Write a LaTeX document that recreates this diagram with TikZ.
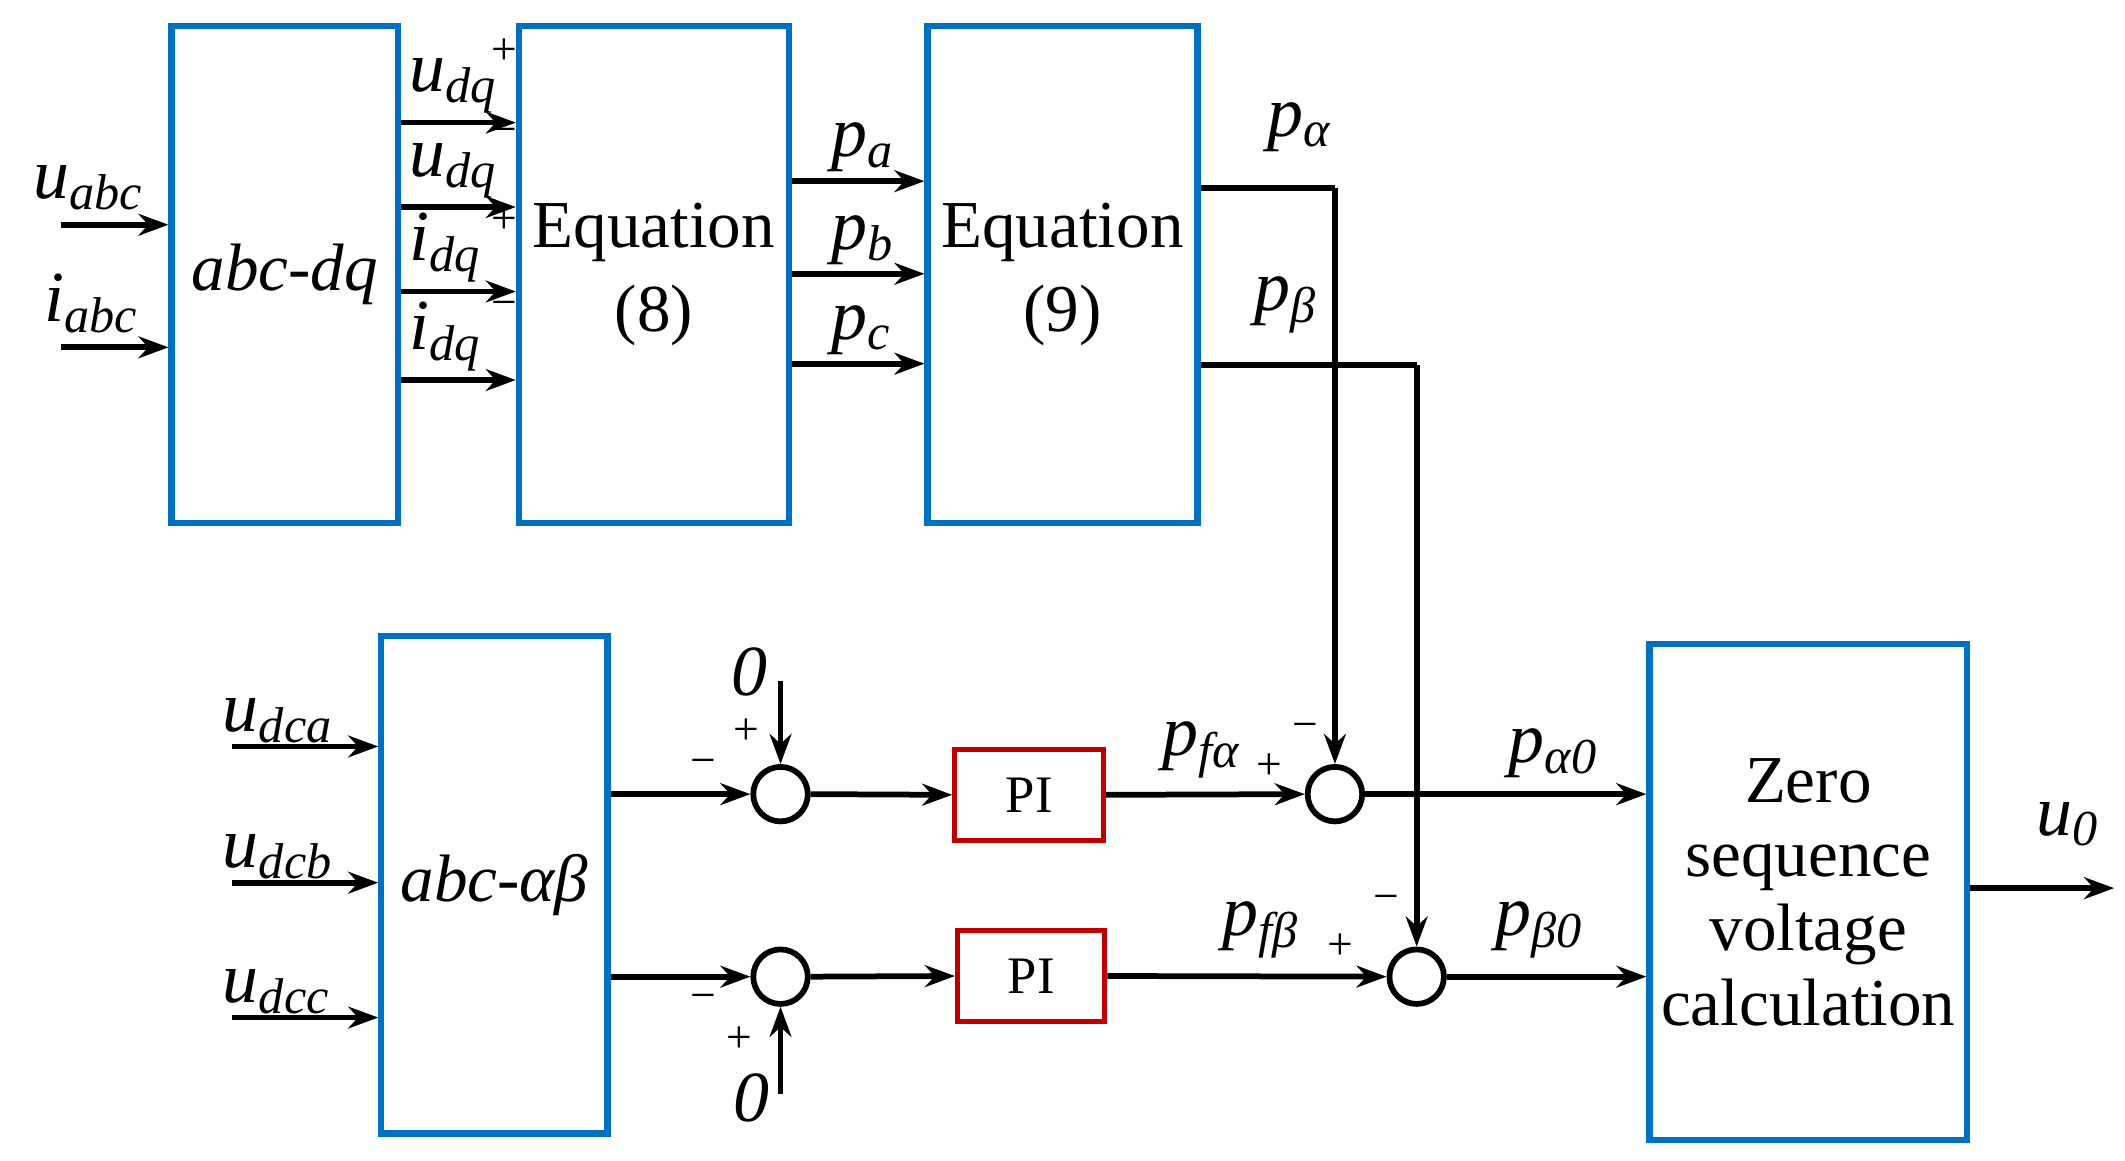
\documentclass[tikz,border=0pt]{standalone}
\usepackage{fontspec}
\setmainfont{Liberation Serif}
\usetikzlibrary{arrows.meta}
\definecolor{bblue}{RGB}{0,112,192}
\definecolor{rred}{RGB}{192,0,0}
\newcommand{\vr}[2]{\textit{#1}\textsubscript{\textit{#2}}}
\begin{document}
\begin{tikzpicture}[x=0.01cm,y=-0.01cm,
 blk/.style={draw=bblue,line width=1.3pt,inner sep=0pt,font=\fontsize{14}{15.5}\selectfont,align=center},
 pib/.style={draw=rred,line width=1.1pt,inner sep=0pt,font=\fontsize{11}{13}\selectfont},
 sum/.style={circle,draw,line width=1.2pt,minimum size=0.4cm,inner sep=0pt},
 ar/.style={line width=1.2pt,-{Stealth[length=0.22cm,width=0.16cm]}},
 ln/.style={line width=1.2pt},
 lb/.style={font=\fontsize{15}{17}\selectfont,inner sep=0pt},
 sg/.style={font=\fontsize{9.5}{11}\selectfont,inner sep=0pt}]
\useasboundingbox (0,0) rectangle (1560,852);
% blocks
\node[blk,minimum width=1.66cm,minimum height=3.65cm] (adq) at (209,201.5) {\itshape abc-dq};
\node[blk,minimum width=1.98cm,minimum height=3.65cm] (e8) at (480,201.5) {Equation\\[2pt](8)};
\node[blk,minimum width=1.98cm,minimum height=3.65cm] (e9) at (780,201.5) {Equation\\[2pt](9)};
\node[blk,minimum width=1.66cm,minimum height=3.65cm] (aab) at (363,649.5) {\itshape abc-αβ};
\node[blk,minimum width=2.33cm,minimum height=3.64cm] (zs) at (1327.5,655) {Zero\\sequence\\voltage\\calculation};
\node[pib,minimum width=1.09cm,minimum height=0.67cm] (pi1) at (755.5,583.5) {PI};
\node[pib,minimum width=1.08cm,minimum height=0.67cm] (pi2) at (757,716.5) {PI};
\node[sum] (s1) at (573,583) {};
\node[sum] (s2) at (980,583) {};
\node[sum] (s3) at (573,717) {};
\node[sum] (s4) at (1040,717) {};
% coordinates
\coordinate (ua) at (45,165); \coordinate (ia) at (45,255);
\coordinate (z1) at (573,500); \coordinate (z2) at (573,803);
\coordinate (uo) at (1552,652);
\coordinate (ca) at (980,138); \coordinate (cb) at (1040,268);
% top inputs
\draw[ar] (ua) -- (ua-|adq.west);
\draw[ar] (ia) -- (ia-|adq.west);
\node[lb,anchor=south west] at (24,155) {\vr{u}{abc}};
\node[lb,anchor=south west] at (32,245) {\vr{i}{abc}};
% udq arrows
\foreach \y/\a/\s in {90/u/+,152/u/−,214/i/+,279/i/−}{
 \draw[ar] (adq.east|-0,\y) -- (e8.west|-0,\y);
 \node[lb,anchor=south west] at (300,\y-6) {\vr{\a}{dq}};
 \node[sg] at (370,\y-52) {\s};
}
% pa pb pc
\foreach \y/\t in {133/a,201/b,267/c}{
 \draw[ar] (e8.east|-0,\y) -- (e9.west|-0,\y);
 \node[lb,anchor=south west] at (610,\y-6) {\vr{p}{\t}};
}
% p alpha / beta
\draw[ln] (e9.east|-ca) -- (ca);
\draw[ar] (ca) -- (s2.north);
\draw[ln] (e9.east|-cb) -- (cb);
\draw[ar] (cb) -- (s4.north);
\node[lb,anchor=south west] at (930,112) {\vr{p}{α}};
\node[lb,anchor=south west] at (920,245) {\vr{p}{β}};
% lower inputs
\foreach \y/\t in {548/dca,648/dcb,747/dcc}{
 \draw[ar] (170,\y) -- (aab.west|-0,\y);
 \node[lb,anchor=south west] at (163,\y-2) {\vr{u}{\t}};
}
\draw[ar] (aab.east|-s1) -- (s1.west);
\draw[ar] (aab.east|-s3) -- (s3.west);
\draw[ar] (z1) -- (s1.north);
\draw[ar] (z2) -- (s3.south);
\node[lb] at (550,493) {\textit{0}};
\node[lb] at (552,806) {\textit{0}};
\node[sg] at (548,537) {+};
\node[sg] at (516,563) {−};
\node[sg] at (516,736) {−};
\node[sg] at (543,763) {+};
\draw[ar] (s1.east) -- (pi1.west);
\draw[ar] (s3.east) -- (pi2.west);
\draw[ar] (pi1.east) -- (s2.west);
\draw[ar] (pi2.east) -- (s4.west);
\node[lb,anchor=south west] at (853,572) {\vr{p}{fα}};
\node[sg] at (932,563) {+};
\node[sg] at (958,537) {−};
\node[lb,anchor=south west] at (897,704) {\vr{p}{fβ}};
\node[sg] at (984,695) {+};
\node[sg] at (1018,663) {−};
\draw[ar] (s2.east) -- (zs.west|-s2);
\draw[ar] (s4.east) -- (zs.west|-s4);
\node[lb,anchor=south west] at (1107,572) {\vr{p}{α0}};
\node[lb,anchor=south west] at (1097,704) {\vr{p}{β0}};
\draw[ar] (zs.east|-uo) -- (uo);
\node[lb,anchor=south west] at (1494,622) {\vr{u}{0}};
\end{tikzpicture}
\end{document}
